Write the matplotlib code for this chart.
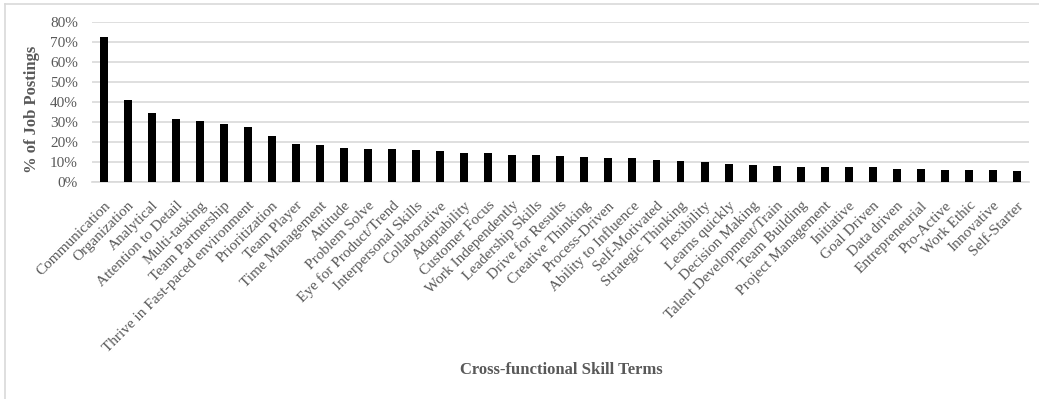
import matplotlib
matplotlib.use("Agg")
import matplotlib.pyplot as plt
from matplotlib.lines import Line2D
from matplotlib.ticker import PercentFormatter

skills = [
    "Communication", "Organization", "Analytical", "Attention to Detail",
    "Multi-tasking", "Team Partnership", "Thrive in Fast-paced environment",
    "Prioritization", "Team Player", "Time Management", "Attitude",
    "Problem Solve", "Eye for Product/Trend", "Interpersonal Skills",
    "Collaborative", "Adaptability", "Customer Focus", "Work Independently",
    "Leadership Skills", "Drive for Results", "Creative Thinking",
    "Process-Driven", "Ability to Influence", "Self-Motivated",
    "Strategic Thinking", "Flexibility", "Learns quickly", "Decision Making",
    "Talent Development/Train", "Team Building", "Project Management",
    "Initiative", "Goal Driven", "Data driven", "Entrepreneurial",
    "Pro-Active", "Work Ethic", "Innovative", "Self-Starter",
]
share = [
    0.725, 0.413, 0.347, 0.318, 0.307, 0.290, 0.275, 0.230, 0.193, 0.185,
    0.173, 0.168, 0.168, 0.163, 0.157, 0.148, 0.148, 0.136, 0.135, 0.132,
    0.128, 0.120, 0.120, 0.112, 0.108, 0.103, 0.092, 0.088, 0.080, 0.075,
    0.075, 0.075, 0.075, 0.067, 0.067, 0.060, 0.060, 0.060, 0.055,
]
y_ticks = [0.0, 0.1, 0.2, 0.3, 0.4, 0.5, 0.6, 0.7, 0.8]

TEXT = "#595959"
GRID = "#d9d9d9"
plt.rcParams["font.family"] = ["Liberation Serif", "DejaVu Serif"]

W, H = 1039, 399
fig = plt.figure(figsize=(W / 100, H / 100), dpi=100)
ax = fig.add_axes([91.7 / W, 1 - 182.3 / H, (1029 - 91.7) / W, (182.3 - 22.3) / H])

x = range(len(skills))
ax.bar(x, share, width=0.33, color="black", zorder=3)

ax.set_xlim(-0.5, len(skills) - 0.5)
ax.set_ylim(0, 0.8)
ax.set_yticks(y_ticks)
ax.yaxis.set_major_formatter(PercentFormatter(1.0, decimals=0))
ax.grid(axis="y", color=GRID, linewidth=1.2, zorder=0)
for side in ("top", "right", "left"):
    ax.spines[side].set_visible(False)
ax.spines["bottom"].set_color(GRID)
ax.spines["bottom"].set_linewidth(1.2)

ax.set_xticks(list(x))
ax.set_xticklabels(skills, rotation=45, ha="right", rotation_mode="anchor",
                   fontsize=11, color=TEXT)
ax.tick_params(axis="x", length=0, pad=12)
ax.tick_params(axis="y", length=0, pad=10, labelsize=11, labelcolor=TEXT)

fig.text(32 / W, 1 - 109 / H, "% of Job Postings", rotation=90,
         ha="center", va="center", fontsize=12, fontweight="bold", color=TEXT)
fig.text(561 / W, 1 - 370 / H, "Cross-functional Skill Terms",
         ha="center", va="center", fontsize=12, fontweight="bold", color=TEXT)

# chart-area frame (top and left edges)
fig.add_artist(Line2D([5 / W, 1.0], [1 - 4 / H, 1 - 4 / H], color=GRID,
                      linewidth=1.2, transform=fig.transFigure))
fig.add_artist(Line2D([5 / W, 5 / W], [0.0, 1 - 4 / H], color=GRID,
                      linewidth=1.2, transform=fig.transFigure))

fig.savefig("out.png", dpi=100, facecolor="white")
